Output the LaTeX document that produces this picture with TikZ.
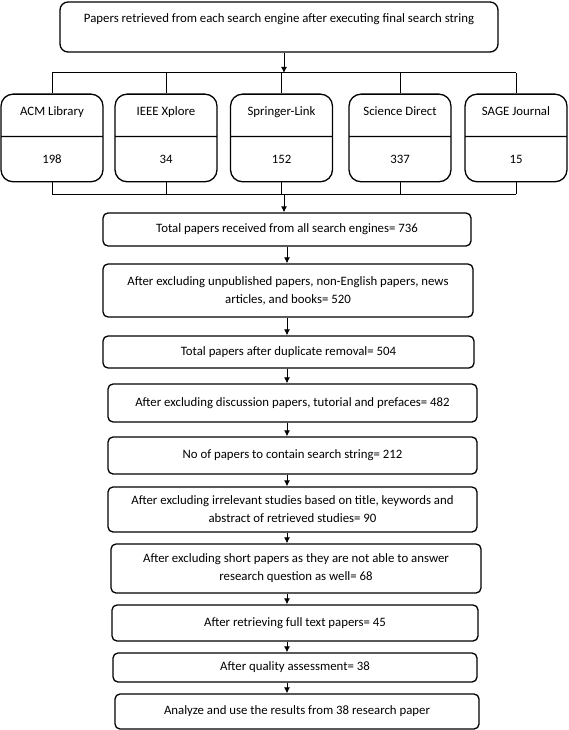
\documentclass[tikz,border=0pt]{standalone}
\usepackage{fontspec}
\setmainfont{Carlito}
\usetikzlibrary{shapes.multipart,arrows.meta}
\tikzset{>={Latex[length=6pt,width=6pt]}}
\tikzset{
  proc/.style={draw,rounded corners=5pt,line width=1.3pt,align=center,
    font=\fontsize{12.8}{18}\selectfont},
  engine/.style={draw,rectangle split,rectangle split parts=2,
    rounded corners=12pt,line width=1.3pt,minimum width=102pt,
    inner ysep=0pt,anchor=north,font=\fontsize{12.8}{14}\selectfont},
}
\newcommand\enghi{\rule[-20pt]{0pt}{41pt}}
\newcommand\englo{\rule[-18pt]{0pt}{44pt}}

\begin{document}
\begin{tikzpicture}[x=1pt,y=-1pt,line width=1pt]
  \useasboundingbox (0,0) rectangle (568,730);
  \node[proc,rounded corners=8pt,minimum width=438pt,minimum height=50pt] (search) at (279,27)
    {Papers retrieved from each search engine after executing final search string\\\mbox{}};
  \foreach \n/\x/\t/\v in {acm/52/ACM Library/198, ieee/166/IEEE Xplore/34,
      springer/281.5/Springer-Link/152, science/400/Science Direct/337,
      sage/516/SAGE Journal/15}
    \node[engine] (\n) at (\x,93.5) {\enghi\t\nodepart{two}\englo\v};
  \coordinate (topbus) at (284,73);
  \coordinate (botbus) at (284,194);
  \coordinate (axis) at (287,0);
  \node[proc,minimum width=368pt,minimum height=33pt] (total) at (287,229.5)
    {Total papers received from all search engines= 736};
  \node[proc,minimum width=370pt,minimum height=53pt] (unpub) at (288,290.5)
    {After excluding unpublished papers, non-English papers, news\\articles, and books= 520};
  \node[proc,minimum width=371pt,minimum height=32pt] (dup) at (288.5,352)
    {Total papers after duplicate removal= 504};
  \node[proc,minimum width=369pt,minimum height=38pt] (discuss) at (292.5,403)
    {After excluding discussion papers, tutorial and prefaces= 482};
  \node[proc,minimum width=369pt,minimum height=37pt] (string) at (292.5,455.5)
    {No of papers to contain search string= 212};
  \node[proc,minimum width=369pt,minimum height=45pt] (irrel) at (292.5,509.5)
    {After excluding irrelevant studies based on title, keywords and\\abstract of retrieved studies= 90};
  \node[proc,minimum width=370pt,minimum height=49pt] (short) at (296,568.5)
    {After excluding short papers as they are not able to answer\\research question as well= 68};
  \node[proc,minimum width=366pt,minimum height=36pt] (full) at (295,623)
    {After retrieving full text papers= 45};
  \node[proc,minimum width=364pt,minimum height=29pt] (quality) at (295,667.5)
    {After quality assessment= 38};
  \node[proc,minimum width=364pt,minimum height=35pt] (analyze) at (297,711.5)
    {Analyze and use the results from 38 research paper};
  \draw[->] (search.south -| topbus) -- (topbus);
  \draw (acm.north |- topbus) -- (sage.north |- topbus);
  \draw (acm.south |- botbus) -- (sage.south |- botbus);
  \foreach \n in {acm,ieee,springer,science,sage} {
    \draw (\n.north) -- (\n.north |- topbus);
    \draw (\n.south) -- (\n.south |- botbus);
  }
  \draw[->] (botbus) -- (total.north -| botbus);
  \foreach \a/\b in {total/unpub,unpub/dup,dup/discuss,discuss/string,string/irrel,
      irrel/short,short/full,full/quality,quality/analyze}
    \draw[->] (axis |- \a.south) -- (axis |- \b.north);
\end{tikzpicture}
\end{document}
